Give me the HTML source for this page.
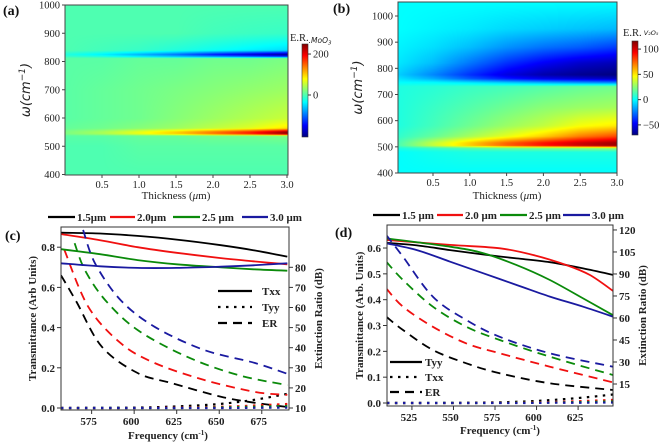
<!DOCTYPE html>
<html><head><meta charset="utf-8">
<style>
html,body{margin:0;padding:0;background:#fff;}
#wrap{position:relative;width:660px;height:443px;overflow:hidden;}
canvas{position:absolute;}
svg{position:absolute;left:0;top:0;}
.ser{font-family:"Liberation Serif",serif;}
.b{font-weight:bold;}
</style></head><body>
<div id="wrap">
<canvas id="ca" width="223" height="170" style="left:65px;top:5px"></canvas>
<canvas id="cb" width="219" height="171" style="left:398px;top:2px"></canvas>
<svg id="svg" width="660" height="443" xmlns="http://www.w3.org/2000/svg"></svg>
</div>
<script>
// ===== Heatmap data =====
const thickA = [0,0.5,1,1.5,2,2.5,3];
const omegaA = [1000,900,840,825,818,812,700,600,565,552,545,538,500,400];
const valsA = [
 [0,0,0,0,0,0,0],
 [0,0,0,0,-5,-8,-10],
 [0,-5,-10,-20,-30,-40,-50],
 [-20,-40,-70,-100,-140,-170,-200],
 [-10,-20,-40,-60,-80,-100,-120],
 [5,5,10,10,15,15,20],
 [5,10,15,20,25,30,35],
 [5,10,15,25,35,45,55],
 [10,15,25,35,50,65,90],
 [20,40,70,100,140,180,240],
 [20,40,70,100,140,180,240],
 [5,5,10,10,15,15,20],
 [0,0,5,5,5,5,5],
 [0,0,0,0,0,0,0]];
const thickB = [0,0.5,1,1.5,2,2.5,3];
const omegaB = [1053,950,880,820,775,760,745,730,650,580,540,515,505,495,480,400];
const valsB = [
 [0,0,0,0,0,0,0],
 [0,-2,-4,-7,-9,-11,-13],
 [-2,-6,-12,-20,-26,-30,-36],
 [-4,-12,-25,-38,-48,-56,-60],
 [-8,-22,-38,-52,-62,-67,-70],
 [-4,-15,-30,-42,-50,-54,-58],
 [0,0,-4,-9,-14,-19,-22],
 [5,7,10,12,15,18,20],
 [5,10,15,20,25,28,30],
 [5,12,20,28,35,45,50],
 [8,18,30,42,55,70,80],
 [12,35,55,75,90,102,110],
 [12,35,55,75,90,102,110],
 [5,10,15,20,22,25,28],
 [0,3,5,5,5,5,5],
 [0,0,0,0,0,0,0]];
const cbTicksA = [200,0];
const cbTicksB = [100,50,0,-50];
const omegaTicks = [400,500,600,700,800,900,1000];
const thickTicks = [0.5,1.0,1.5,2.0,2.5,3.0];

// ===== Panel c data =====
const fC = [557,580,602,625,651,670,690];
const txxC = {k:[0.872,0.868,0.856,0.838,0.81,0.785,0.753], r:[0.865,0.835,0.80,0.772,0.746,0.73,0.715], g:[0.79,0.765,0.736,0.715,0.70,0.69,0.683], b:[0.72,0.705,0.697,0.697,0.703,0.71,0.72]};
const fTyyC = [557,600,625,650,670,690];
const tyyC = {k:[0,0.002,0.008,0.02,0.04,0.07], r:[0,0,0.002,0.006,0.012,0.02], g:[0,0,0,0.003,0.006,0.01], b:[0,0,0,0,0.001,0.002]};
const erFC = {k:[557,566,581,602,622,651,671,690], r:[559,573,592,612,641,671,690], g:[565,571,583,602,631,661,690], b:[570,577,592,612,641,671,690]};
const erC = {k:[76,63,40.5,27.4,22.4,15.6,12.6,10.5], r:[88.6,60.4,42.3,32.4,24,18,16.5], g:[92,78.7,63.7,48.8,35.5,26.4,21.4], b:[98.6,82,63.7,50.4,38.9,32.4,27]};
const cXTicks=[575,600,625,650,675], cLTicks=[0,0.2,0.4,0.6,0.8], cRTicks=[10,20,30,40,50,60,70,80];

// ===== Panel d data =====
const fTyyD = {k:[510,528,548,568,588,608,628,646], r:[510,548,578,598,618,632,646], g:[510,548,568,588,608,628,646], b:[510,528,548,568,588,608,628,646]};
const tyyD = {k:[0.62,0.61,0.592,0.575,0.56,0.545,0.521,0.496], r:[0.631,0.612,0.599,0.573,0.534,0.496,0.434], g:[0.637,0.605,0.58,0.534,0.476,0.405,0.34], b:[0.618,0.592,0.547,0.502,0.457,0.412,0.373,0.334]};
const fTxxD = [510,560,590,610,630,646];
const txxD = {k:[0,0.001,0.005,0.012,0.022,0.033], r:[0,0,0.002,0.004,0.008,0.012], g:[0,0,0.001,0.002,0.004,0.006], b:[0,0,0,0.001,0.001,0.002]};
const erFD = [509.5,519.6,537.6,557.7,577.8,608,646];
const erD = {k:[60.9,51.8,38.2,29.1,22.3,15.5,10.9], r:[80.2,67.7,54,42.7,35.9,26.8,16.1], g:[98.4,85.9,67.7,54,45,33.6,21.1], b:[116.6,101.8,74.5,58.6,47.2,35.9,26.8]};
const dXTicks=[525,550,575,600,625], dLTicks=[0,0.1,0.2,0.3,0.4,0.5,0.6], dRTicks=[15,30,45,60,75,90,105,120];

const COL={k:'#000',r:'#f01010',g:'#0a8a0a',b:'#1a1aa0'};
const NS='http://www.w3.org/2000/svg';
const svg=document.getElementById('svg');
function el(tag,attrs,parent){const e=document.createElementNS(NS,tag);for(const k in attrs)e.setAttribute(k,attrs[k]);(parent||svg).appendChild(e);return e;}
function txt(s,x,y,attrs,parent){const e=el('text',Object.assign({x:x,y:y},attrs),parent);e.textContent=s;return e;}

function jet(t){t=Math.max(0,Math.min(1,t));const c=v=>Math.round(255*Math.max(0,Math.min(1,v)));
 return [c(1.5-Math.abs(4*t-3)),c(1.5-Math.abs(4*t-2)),c(1.5-Math.abs(4*t-1))];}
function interp(xs,ys,x){if(x<=xs[0])return ys[0];for(let i=1;i<xs.length;i++){if(x<=xs[i]){const t=(x-xs[i-1])/(xs[i]-xs[i-1]);return ys[i-1]+t*(ys[i]-ys[i-1]);}}return ys[ys.length-1];}
function paintHeat(id,thick,omega,vals,t0,t1,w0,w1,vmin,vmax){
 const cv=document.getElementById(id),ctx=cv.getContext('2d'),W=cv.width,H=cv.height;
 const img=ctx.createImageData(W,H);
 for(let py=0;py<H;py++){
  const w=w1-(py+0.5)/H*(w1-w0);
  let i=0;while(i<omega.length-2&&omega[i+1]>w)i++;
  const a=omega[i],b=omega[i+1],tt=Math.max(0,Math.min(1,(a-w)/(a-b)));
  for(let px=0;px<W;px++){
   const th=t0+(px+0.5)/W*(t1-t0);
   const v=interp(thick,vals[i],th)*(1-tt)+interp(thick,vals[i+1],th)*tt;
   const c=jet((v-vmin)/(vmax-vmin));const k=(py*W+px)*4;
   img.data[k]=c[0];img.data[k+1]=c[1];img.data[k+2]=c[2];img.data[k+3]=255;}
 }
 ctx.putImageData(img,0,0);
}
paintHeat('ca',thickA,omegaA,valsA,0,3,400,1000,-205,249);
paintHeat('cb',thickB,omegaB,valsB,0.024,3,400,1053,-70,116);

function heatAxes(p){
 const g=el('g',{});
 const r=el('rect',{x:p.x0,y:p.y0,width:p.x1-p.x0,height:p.y1-p.y0,fill:'none',stroke:'#444','stroke-width':1},g);
 
 omegaTicks.forEach(w=>{const y=p.yS(w);if(y<p.y0-1)return;
  el('line',{x1:p.x0-3,x2:p.x0,y1:y,y2:y,stroke:'#444'},g);
  const t=txt(String(w),p.x0-5,y+3.5,{'text-anchor':'end','font-size':10.5,class:'ser',fill:'#222'},g);
  });
 thickTicks.forEach(v=>{const x=p.xS(v);
  el('line',{x1:x,x2:x,y1:p.y1,y2:p.y1+3,stroke:'#444'},g);
  const t=txt(v.toFixed(1),x,p.y1+13,{'text-anchor':'middle','font-size':10.5,class:'ser',fill:'#222'},g);
  });
 const xl=txt('Thickness (',0,0,{x:p.xl,y:199,'text-anchor':'middle','font-size':11,class:'ser',fill:'#222'},g);
 const ts=el('tspan',{'font-style':'italic'},xl);ts.textContent='μ';const ts2=el('tspan',{},xl);ts2.textContent='m)';
 
 const yl=txt('',0,0,{transform:'translate('+p.yl+','+(p.y0+p.y1)/2+') rotate(-90)','text-anchor':'middle','font-size':13,'font-family':'DejaVu Sans, sans-serif','font-style':'italic',fill:'#222'},g);
 yl.textContent='ω(cm';const sp=el('tspan',{'baseline-shift':'super','font-size':9},yl);sp.textContent='−1';const sp2=el('tspan',{},yl);sp2.textContent=')';
 
 const gid='jet'+p.id;const lg=el('linearGradient',{id:gid,x1:0,y1:1,x2:0,y2:0},el('defs',{},g));
 for(let i=0;i<=8;i++){const c=jet(i/8);el('stop',{offset:i/8,'stop-color':'rgb('+c.join(',')+')'},lg);}
 const cb=el('rect',{x:p.cx,y:p.cy0,width:6,height:p.cy1-p.cy0,fill:'url(#'+gid+')',stroke:'#333','stroke-width':0.6},g);
 
 p.cTicks.forEach(v=>{const y=p.cy1-(v-p.vmin)/(p.vmax-p.vmin)*(p.cy1-p.cy0);
  el('line',{x1:p.cx+6,x2:p.cx+9,y1:y,y2:y,stroke:'#333'},g);
  const t=txt(v<0?'−'+(-v):String(v),p.cx+11,y+3.5,{'font-size':10.5,class:'ser',fill:'#222'},g);
  });
 const cl=txt('E.R.',p.lx,p.ly,{'font-size':10.5,class:'ser',fill:'#222'},g);
 const sub=el('tspan',{'font-style':'italic','font-size':p.subSize,dy:p.sdy,'font-family':'DejaVu Sans, sans-serif'},cl);sub.textContent=p.sub;
 if(p.sub2){const s2=el('tspan',{'font-size':5.5,dy:1.5,'font-style':'italic','font-family':'DejaVu Sans, sans-serif'},cl);s2.textContent='3';}
 
 const pl=txt('('+p.id+')',p.px,p.py,{'font-size':14,class:'ser b',fill:'#111'},g);
 
}
heatAxes({id:'a',x0:65,x1:288,y0:5,y1:175,xS:t=>65+t*74,yS:w=>174.5-(w-400)*169.5/600,xl:176,yl:30,
 cx:302,cy0:44,cy1:137,vmin:-205,vmax:249,cTicks:cbTicksA,lx:290,ly:41,sub:'.MoO',subSize:7.5,sdy:2,sub2:true,px:3,py:15});
heatAxes({id:'b',x0:398,x1:617,y0:2,y1:173,xS:t=>396.2+t*73.6,yS:w=>173-(w-400)*157/600,xl:507,yl:362,
 cx:632,cy0:41,cy1:135,vmin:-70,vmax:116,cTicks:cbTicksB,lx:623,ly:36,sub:' V₂O₅',subSize:6.5,sdy:-1,sub2:false,px:333,py:13});

function pathD(xs,ys){let d='';const P=xs.map((x,i)=>[x,ys[i]]);
 for(let i=0;i<P.length;i++){if(i===0){d+='M'+P[0][0].toFixed(1)+','+P[0][1].toFixed(1);continue;}
  const p0=P[Math.max(0,i-2)],p1=P[i-1],p2=P[i],p3=P[Math.min(P.length-1,i+1)];
  const c1=[p1[0]+(p2[0]-p0[0])/6,p1[1]+(p2[1]-p0[1])/6],c2=[p2[0]-(p3[0]-p1[0])/6,p2[1]-(p3[1]-p1[1])/6];
  d+='C'+c1[0].toFixed(1)+','+c1[1].toFixed(1)+' '+c2[0].toFixed(1)+','+c2[1].toFixed(1)+' '+p2[0].toFixed(1)+','+p2[1].toFixed(1);}
 return d;}
function linePanel(p){
 const g=el('g',{});
 const cp=el('clipPath',{id:'clip'+p.id},el('defs',{},g));el('rect',{x:p.x0,y:p.y0,width:p.x1-p.x0,height:p.y1-p.y0},cp);
 const X=f=>p.x0+(f-p.fmin)/(p.fmax-p.fmin)*(p.x1-p.x0);
 const YL=v=>p.yL0-v*p.yLs, YR=v=>p.yR0-(v-p.rBase)*p.yRs;
 const gc=el('g',{'clip-path':'url(#clip'+p.id+')'},g);
 ['k','r','g','b'].forEach(c=>{
  const fs=Array.isArray(p.solidF)?p.solidF:p.solidF[c];
  const s=el('path',{d:pathD(fs.map(X),p.solid[c].map(YL)),fill:'none',stroke:COL[c],'stroke-width':1.8},gc);
  
  const df=Array.isArray(p.dotF)?p.dotF:p.dotF[c];
  const dt=el('path',{d:pathD(df.map(X),p.dot[c].map(YL)),fill:'none',stroke:COL[c],'stroke-width':2.2,'stroke-dasharray':'2.5,5.5'},gc);
  
  const ef=Array.isArray(p.erF)?p.erF:p.erF[c];
  const e=el('path',{d:pathD(ef.map(X),p.er[c].map(YR)),fill:'none',stroke:COL[c],'stroke-width':1.8,'stroke-dasharray':'9,6'},gc);
  
 });
 const fr=el('rect',{x:p.x0,y:p.y0,width:p.x1-p.x0,height:p.y1-p.y0,fill:'none',stroke:'#333','stroke-width':1},g);
 
 const fnt={'font-size':11,class:'ser b',fill:'#222'};
 p.xT.forEach(v=>{const x=X(v);el('line',{x1:x,x2:x,y1:p.y1,y2:p.y1+4,stroke:'#333'},g);
  const t=txt(String(v),x-3,p.y1+15,Object.assign({'text-anchor':'middle'},fnt),g);
  });
 p.lT.forEach(v=>{const y=YL(v);el('line',{x1:p.x0-4,x2:p.x0,y1:y,y2:y,stroke:'#333'},g);
  const t=txt(v.toFixed(1),p.x0-6,y+4,Object.assign({'text-anchor':'end'},fnt),g);
  });
 p.rT.forEach(v=>{const y=YR(v);el('line',{x1:p.x1,x2:p.x1+4,y1:y,y2:y,stroke:'#333'},g);
  const t=txt(String(v),p.x1+6,y+4,fnt,g);
  });
 const xl=txt('Frequency (cm',p.xlx,p.xly,Object.assign({'text-anchor':'middle'},fnt),g);
 const s=el('tspan',{'baseline-shift':'super','font-size':7},xl);s.textContent='-1';const s2=el('tspan',{},xl);s2.textContent=')';
 
 const yl=txt(p.yLabel,0,0,Object.assign({transform:'translate('+p.ylx+','+(p.y0+p.y1)/2+') rotate(-90)','text-anchor':'middle'},fnt),g);
 
 const yr=txt('Extinction Ratio (dB)',0,0,Object.assign({transform:'translate('+p.yrx+','+(p.y0+p.y1)/2+') rotate(-90)','text-anchor':'middle'},fnt),g);
 
 p.leg.forEach((L,i)=>{const c=['k','r','g','b'][i];
  const lg=el('g',{},g);
  el('line',{x1:L.a,x2:L.b,y1:p.legY,y2:p.legY,stroke:COL[c],'stroke-width':2.2},lg);
  txt(L.t,L.b+2,p.legY+4,fnt,lg);});
 p.sLeg.forEach((L,i)=>{const lg=el('g',{},g);
  const da=[null,'2.5,5.5','9,6'][i];const at={x1:p.sx0,x2:p.sx1,y1:L.y,y2:L.y,stroke:'#000','stroke-width':2.2};if(da)at['stroke-dasharray']=da;
  el('line',at,lg);txt(L.t,p.sx1+(p.id==='c'?10:3),L.y+4,fnt,lg);});
 const pl=txt('('+p.id+')',p.px,p.py,{'font-size':14,class:'ser b',fill:'#111'},g);
 
}
linePanel({id:'c',x0:61,x1:289,y0:227,y1:410,fmin:557,fmax:691,yL0:408,yLs:201,yR0:408,yRs:2.01,rBase:10,
 solidF:fC,solid:txxC,dotF:fTyyC,dot:tyyC,erF:erFC,er:erC,xT:cXTicks,lT:cLTicks,rT:cRTicks,
 xlx:168,xly:439,ylx:36,yrx:322,yLabel:'Transmittance (Arb Units)',legY:217,
 leg:[{a:48,b:75,t:'1.5μm'},{a:110,b:135,t:'2.0μm'},{a:173,b:200,t:'2.5 μm'},{a:242,b:268,t:'3.0 μm'}],
 sx0:218,sx1:252,sLeg:[{t:'Txx',y:291},{t:'Tyy',y:307},{t:'ER',y:323}],px:5,py:240});
linePanel({id:'d',x0:387,x1:613,y0:225,y1:406,fmin:510,fmax:646,yL0:403,yLs:258.3,yR0:406,yRs:1.467,rBase:0,
 solidF:fTyyD,solid:tyyD,dotF:fTxxD,dot:txxD,erF:erFD,er:erD,xT:dXTicks,lT:dLTicks,rT:dRTicks,
 xlx:500,xly:434,ylx:363,yrx:646,yLabel:'Transmittance (Arb. Units)',legY:215,
 leg:[{a:373,b:400,t:'1.5 μm'},{a:437,b:463,t:'2.0 μm'},{a:500,b:527,t:'2.5 μm'},{a:563,b:590,t:'3.0 μm'}],
 sx0:390,sx1:422,sLeg:[{t:'Tyy',y:362},{t:'Txx',y:377},{t:'ER',y:392}],px:335,py:237});
</script>
</body></html>
